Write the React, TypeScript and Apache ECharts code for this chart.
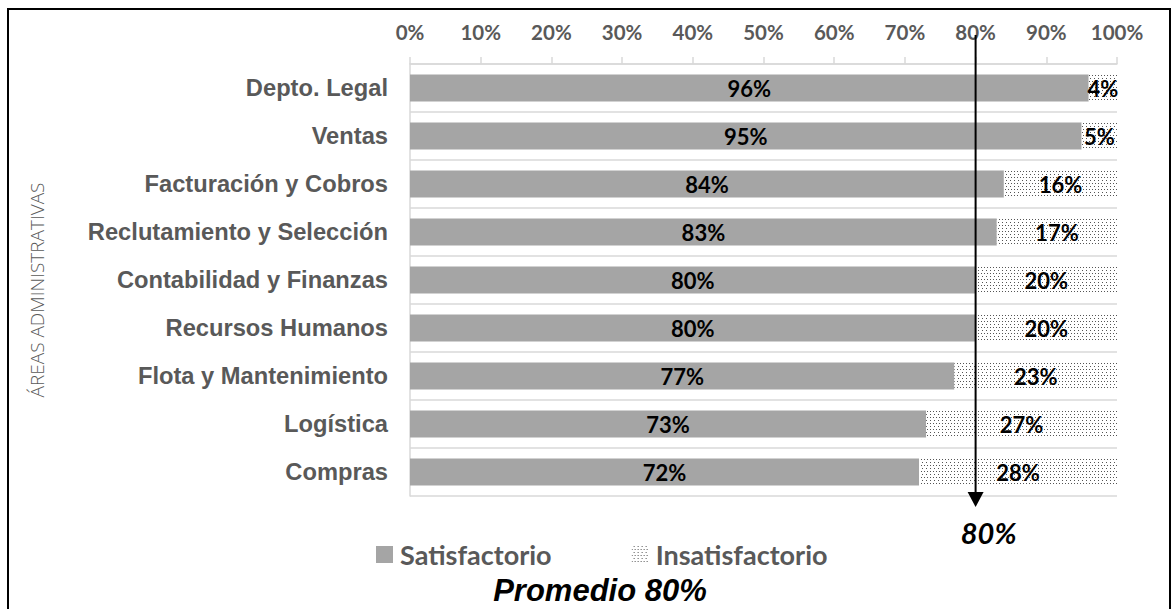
import React, { useEffect, useRef } from "react";
import * as echarts from "echarts";

const categories = [
  "Depto. Legal",
  "Ventas",
  "Facturación y Cobros",
  "Reclutamiento y Selección",
  "Contabilidad y Finanzas",
  "Recursos Humanos",
  "Flota y Mantenimiento",
  "Logística",
  "Compras",
];
const satisfactorio = [96, 95, 84, 83, 80, 80, 77, 73, 72];
const insatisfactorio = [4, 5, 16, 17, 20, 20, 23, 27, 28];
const seriesNames = ["Satisfactorio", "Insatisfactorio"];
const averageValue = 80;
const axisTitle = "ÁREAS ADMINISTRATIVAS";
const footerTitle = "Promedio 80%";
const averageLabel = "80%";

const GRAY_TEXT = "#595959";
const GRID = "#d9d9d9";

export default function App() {
  const ref = useRef<HTMLDivElement>(null);
  useEffect(() => {
    if (!ref.current) return;
    const chart = echarts.init(ref.current, null, { renderer: "svg" });
    const labelStyle = {
      show: true,
      position: "inside",
      color: "#000",
      fontFamily: "Lato",
      fontWeight: "bold",
      fontSize: 22,
      formatter: "{c}%",
    };
    const staticGraphics = [
      {
        type: "rect",
        z: 100,
        shape: { x: 8, y: 9, width: 1162, height: 640 },
        style: { fill: "none", stroke: "#000", lineWidth: 2 },
        silent: true,
      },
      {
        type: "text",
        x: 37,
        y: 290,
        rotation: Math.PI / 2,
        style: {
          text: axisTitle,
          fill: GRAY_TEXT,
          fontFamily: "Open Sans",
          fontWeight: 300,
          fontSize: 19,
          align: "center",
          verticalAlign: "middle",
        },
      },
      {
        type: "text",
        x: 600,
        y: 590,
        style: {
          text: footerTitle,
          fill: "#000",
          fontFamily: "Liberation Sans",
          fontWeight: "bold",
          fontStyle: "italic",
          fontSize: 31,
          align: "center",
          verticalAlign: "middle",
        },
      },
    ];
    chart.setOption({
      animation: false,
      backgroundColor: "#fff",
      grid: { left: 410, right: 58, top: 64, bottom: 113, containLabel: false },
      legend: {
        left: 371,
        top: 536,
        itemWidth: 17,
        itemHeight: 17,
        itemGap: 80,
        icon: "rect",
        data: seriesNames,
        textStyle: {
          color: GRAY_TEXT,
          fontFamily: "Lato",
          fontWeight: "bold",
          fontSize: 27,
          padding: [0, 0, 0, 2],
        },
      },
      xAxis: {
        type: "value",
        position: "top",
        min: 0,
        max: 100,
        interval: 10,
        axisLabel: {
          formatter: "{value}%",
          color: GRAY_TEXT,
          fontFamily: "Lato",
          fontWeight: "bold",
          fontSize: 20.5,
          margin: 22,
        },
        axisLine: { show: true, lineStyle: { color: GRID, width: 1.5 } },
        axisTick: { show: true, length: 7, lineStyle: { color: GRID, width: 1.5 } },
        splitLine: { show: false },
      },
      yAxis: {
        type: "category",
        inverse: true,
        data: categories,
        axisLine: { show: true, lineStyle: { color: GRID, width: 1.5 } },
        axisTick: { show: false },
        splitLine: { show: true, lineStyle: { color: GRID, width: 1.5 } },
        axisLabel: {
          color: GRAY_TEXT,
          fontFamily: "Liberation Sans",
          fontWeight: "bold",
          fontSize: 23.7,
          margin: 22,
        },
      },
      series: [
        {
          name: seriesNames[0],
          type: "bar",
          stack: "total",
          barWidth: 27,
          data: satisfactorio,
          itemStyle: { color: "#a5a5a5" },
          label: labelStyle,
        },
        {
          name: seriesNames[1],
          type: "bar",
          stack: "total",
          barWidth: 27,
          data: insatisfactorio,
          itemStyle: {
            color: "#ffffff",
            decal: {
              symbol: "rect",
              symbolSize: 1,
              dashArrayX: [[1, 2], [0, 1.5, 1, 0.5]],
              dashArrayY: [1, 2],
              color: "#555555",
              backgroundColor: "#ffffff",
            },
          },
          label: labelStyle,
        },
      ],
      graphic: staticGraphics,
    });
    const px = chart.convertToPixel({ xAxisIndex: 0 }, averageValue) as number;
    chart.setOption({
      graphic: [
        ...staticGraphics,
        {
          type: "line",
          z: 50,
          shape: { x1: px, y1: 35, x2: px, y2: 494 },
          style: { stroke: "#000", lineWidth: 2 },
        },
        {
          type: "polygon",
          z: 50,
          shape: { points: [[px - 8, 492], [px + 8, 492], [px, 507]] },
          style: { fill: "#000" },
        },
        {
          type: "text",
          x: px + 13,
          y: 532,
          style: {
            text: averageLabel,
            fill: "#000",
            fontFamily: "Lato",
            fontWeight: "bold",
            fontStyle: "italic",
            fontSize: 29,
            align: "center",
            verticalAlign: "middle",
          },
        },
      ],
    });
    return () => chart.dispose();
  }, []);
  return (
    <div
      ref={ref}
      style={{ position: "fixed", left: 0, top: 0, width: 1175, height: 609, background: "#fff" }}
    />
  );
}
